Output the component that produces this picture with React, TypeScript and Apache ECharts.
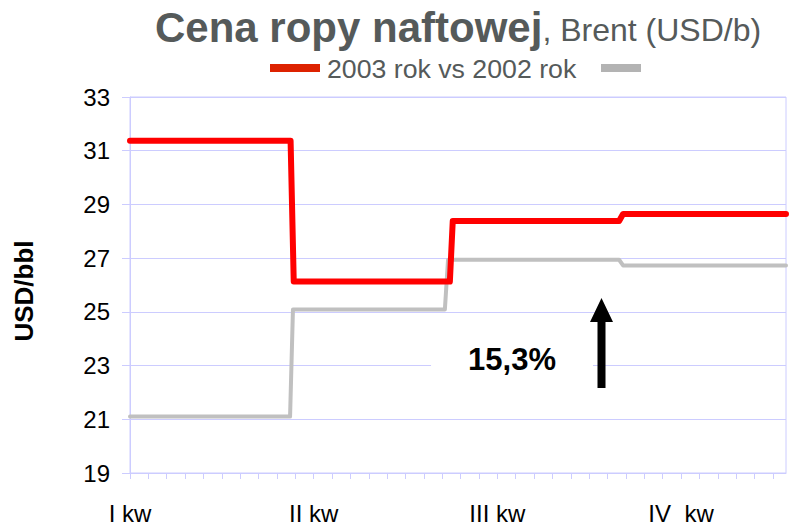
import React, { useEffect, useRef } from 'react';
import * as echarts from 'echarts';

// x = trading-day index within the year, y = USD/bbl
const QUARTER_LABELS = ['I kw', 'II kw', 'III kw', 'IV  kw'];
const QUARTER_LABEL_DAYS = [0, 70, 140, 210];

const DAYS_2003 = [0, 61.2, 62.4, 121.9, 123.0, 186.4, 187.9, 250];
const PRICE_2003 = [31.37, 31.37, 26.13, 26.13, 28.38, 28.38, 28.64, 28.64];

const DAYS_2002 = [0, 61.0, 62.1, 120.0, 121.2, 186.4, 187.9, 250];
const PRICE_2002 = [21.1, 21.1, 25.09, 25.09, 26.94, 26.94, 26.73, 26.73];

const FONT = '"Liberation Sans", Arial, sans-serif';
const GRID_COLOR = '#ccccff';

export default function App() {
  const ref = useRef<HTMLDivElement>(null);

  useEffect(() => {
    if (!ref.current) return;
    const chart = echarts.init(ref.current, null, { renderer: 'svg' });

    const labelFor = (v: number) => {
      const i = QUARTER_LABEL_DAYS.indexOf(Math.round(v));
      return i >= 0 ? QUARTER_LABELS[i] : '';
    };

    chart.setOption({
      animation: false,
      backgroundColor: '#ffffff',
      title: {
        text: '{b|Cena ropy naftowej}{n|, Brent (USD/b)}',
        left: 150,
        top: 1,
        textStyle: {
          fontWeight: 'normal',
          rich: {
            b: { fontFamily: FONT, fontSize: 42, fontWeight: 'bold', color: '#555a5a' },
            n: { fontFamily: FONT, fontSize: 32, fontWeight: 'normal', color: '#555a5a', verticalAlign: 'bottom', padding: [0, 0, 2, 0] },
          },
        },
      },
      grid: {
        left: 130,
        right: 3,
        top: 97,
        bottom: 49,
        show: true,
        borderColor: GRID_COLOR,
        borderWidth: 1,
        backgroundColor: 'transparent',
      },
      xAxis: {
        type: 'value',
        min: 0,
        max: 250,
        interval: 7,
        axisLine: { show: true, lineStyle: { color: GRID_COLOR, width: 1 } },
        axisTick: { show: true, length: 6, lineStyle: { color: GRID_COLOR } },
        splitLine: { show: false },
        axisLabel: {
          formatter: labelFor,
          fontFamily: FONT,
          fontSize: 24,
          color: '#000',
          margin: 28,
          showMaxLabel: false,
        },
      },
      yAxis: {
        type: 'value',
        min: 19,
        max: 33,
        interval: 2,
        name: 'USD/bbl',
        nameLocation: 'middle',
        nameGap: 93,
        nameTextStyle: { fontFamily: FONT, fontSize: 26, fontWeight: 'bold', color: '#000', padding: [0, 12, 0, 0] },
        axisLine: { show: true, lineStyle: { color: GRID_COLOR, width: 1 } },
        axisTick: { show: true, length: 8, lineStyle: { color: GRID_COLOR } },
        splitLine: { show: true, lineStyle: { color: GRID_COLOR, width: 1 } },
        axisLabel: { fontFamily: FONT, fontSize: 24, color: '#000', margin: 20 },
      },
      series: [
        {
          name: '2002 rok',
          type: 'line',
          data: DAYS_2002.map((d, i) => [d, PRICE_2002[i]]),
          showSymbol: false,
          symbol: 'none',
          lineStyle: { color: '#c0c0c0', width: 4, join: 'round', cap: 'round' },
          z: 2,
        },
        {
          name: '2003 rok',
          type: 'line',
          data: DAYS_2003.map((d, i) => [d, PRICE_2003[i]]),
          showSymbol: false,
          symbol: 'none',
          lineStyle: { color: '#ff0000', width: 6, join: 'round', cap: 'round' },
          z: 3,
        },
      ],
      graphic: [
        { type: 'rect', shape: { x: 270, y: 64, width: 50, height: 8 }, style: { fill: '#dd2200' } },
        {
          type: 'text',
          x: 327,
          y: 69,
          style: {
            text: '2003 rok vs 2002 rok',
            fontFamily: FONT,
            fontSize: 26.7,
            fill: '#555a5a',
            verticalAlign: 'middle',
          },
        },
        { type: 'rect', shape: { x: 601, y: 64, width: 40, height: 8 }, style: { fill: '#b3b3b3' } },
        {
          type: 'text',
          x: 512,
          y: 359,
          z: 10,
          style: {
            text: '15,3%',
            fontFamily: FONT,
            fontSize: 31,
            fontWeight: 'bold',
            fill: '#000',
            align: 'center',
            verticalAlign: 'middle',
            backgroundColor: '#ffffff',
            padding: [14, 37, 12, 37],
          },
        },
        {
          type: 'polygon',
          z: 10,
          shape: {
            points: [
              [597.5, 388],
              [597.5, 322],
              [590, 322],
              [601.5, 298],
              [613, 322],
              [605.5, 322],
              [605.5, 388],
            ],
          },
          style: { fill: '#000' },
        },
      ],
    });

    return () => chart.dispose();
  }, []);

  return (
    <div
      ref={ref}
      style={{ position: 'fixed', left: 0, top: 0, width: 789, height: 525 }}
    />
  );
}
